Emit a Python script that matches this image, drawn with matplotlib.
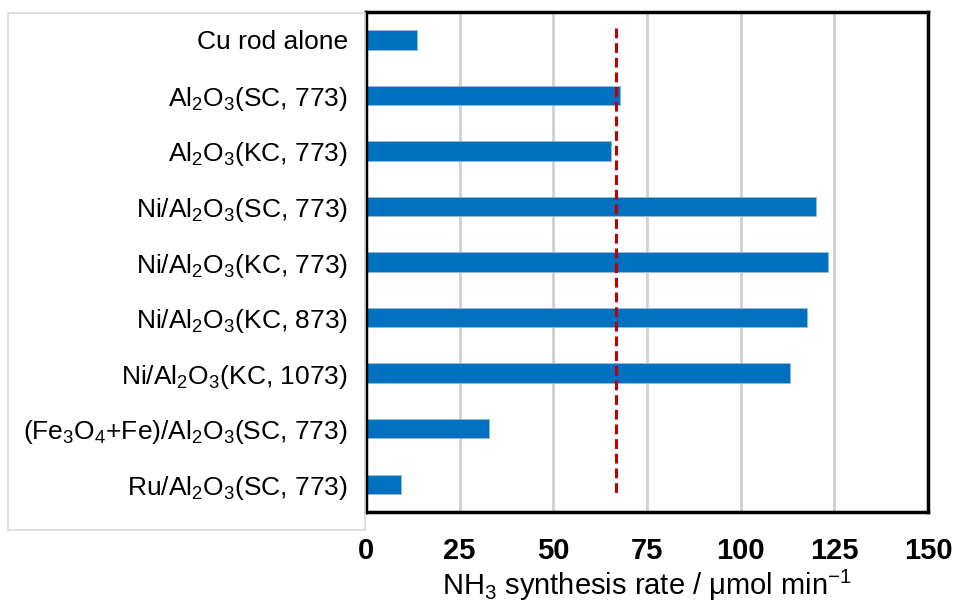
import matplotlib
matplotlib.use("Agg")
import matplotlib.pyplot as plt
from matplotlib.patches import Rectangle

plt.rcParams['font.family'] = ['Liberation Sans', 'DejaVu Sans']
plt.rcParams['mathtext.default'] = 'regular'

categories = [
    "Cu rod alone",
    r"$\mathregular{Al_2O_3}$(SC, 773)",
    r"$\mathregular{Al_2O_3}$(KC, 773)",
    r"Ni/$\mathregular{Al_2O_3}$(SC, 773)",
    r"Ni/$\mathregular{Al_2O_3}$(KC, 773)",
    r"Ni/$\mathregular{Al_2O_3}$(KC, 873)",
    r"Ni/$\mathregular{Al_2O_3}$(KC, 1073)",
    r"($\mathregular{Fe_3O_4}$+Fe)/$\mathregular{Al_2O_3}$(SC, 773)",
    r"Ru/$\mathregular{Al_2O_3}$(SC, 773)",
]
rates = [13.7, 67.7, 65.4, 120.1, 123.3, 117.6, 113.2, 32.7, 9.4]
reference_rate = 66.7
xticks = [0, 25, 50, 75, 100, 125, 150]

fig = plt.figure(figsize=(9.56, 6.06), dpi=100)
# light frame behind label area
fig.patches.append(Rectangle((8/956, 1-530/606), (365-8)/956, (530-13)/606,
                             transform=fig.transFigure, fill=False,
                             edgecolor='#D9D9D9', linewidth=1.2, zorder=0))
ax = fig.add_axes([366/956, 1-512/606, (928-366)/956, 500/606])
ax.set_facecolor('white')

y = list(range(len(categories)))
ax.barh(y, rates, height=0.35, color='#0070C0', edgecolor='#9DB8D6',
        linewidth=0.6, zorder=3)
ax.vlines(reference_rate, -0.22, len(categories)-1+0.22, colors='#C00000',
          linestyles=(0, (3.2, 1.6)), linewidth=2.2, zorder=4)

ax.set_xlim(0, 150)
ax.set_ylim(len(categories)-0.5, -0.5)
ax.set_xticks(xticks)
ax.set_xticklabels([str(t) for t in xticks], fontsize=21, fontweight='bold')
ax.set_yticks(y)
ax.set_yticklabels(categories, fontsize=19)
ax.tick_params(axis='both', length=0)
ax.tick_params(axis='y', pad=13)
ax.tick_params(axis='x', pad=18)
ax.xaxis.grid(True, color='#D0D0D0', linewidth=2, zorder=0)
ax.set_axisbelow(True)
for s in ax.spines.values():
    s.set_linewidth(2.5)
    s.set_color('black')
    s.set_zorder(5)
ax.set_xlabel(r"NH$_3$ synthesis rate / μmol min$^{-1}$", fontsize=21, labelpad=2)

fig.savefig("out.png", dpi=100, facecolor='white')
